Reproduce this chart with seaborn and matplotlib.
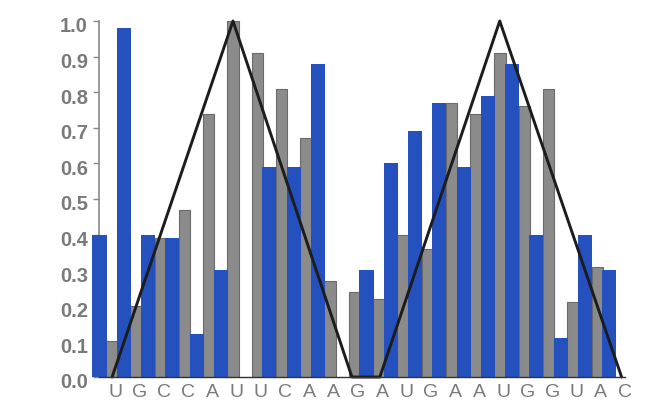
import numpy as np
import pandas as pd
import matplotlib
matplotlib.use("Agg")
import matplotlib.pyplot as plt
import matplotlib.transforms as mtransforms
import seaborn as sns

# ---- data ----
labels = list("UGCCAUUCAAGAUGAAUGGUAC")
blue_vals = [0.40, 0.98, 0.40, 0.39, 0.12, 0.30, 0.00, 0.59, 0.59, 0.88, 0.00,
             0.30, 0.60, 0.69, 0.77, 0.59, 0.79, 0.88, 0.40, 0.11, 0.40, 0.30]
gray_vals = [0.10, 0.20, 0.39, 0.47, 0.74, 1.00, 0.91, 0.81, 0.67, 0.27, 0.24,
             0.22, 0.40, 0.36, 0.77, 0.74, 0.91, 0.76, 0.81, 0.21, 0.31, 0.00]
line_x = [0.27, 5.25, 10.15, 11.30, 16.24, 21.26]
line_y = [0.0, 1.0, 0.0, 0.0, 1.0, 0.0]
yticks = [0.0, 0.1, 0.2, 0.3, 0.4, 0.5, 0.6, 0.7, 0.8, 0.9, 1.0]

BLUE = "#2451BE"
GRAY = "#8B8B8B"
TXT = "#7A7A7A"

n = len(labels)
df = pd.DataFrame({
    "pos": list(range(n)) * 2,
    "value": blue_vals + gray_vals,
    "series": ["blue"] * n + ["gray"] * n,
})

sns.set_style("white")
plt.rcParams["font.family"] = ["Liberation Sans", "DejaVu Sans"]

fig = plt.figure(figsize=(6.58, 4.06), dpi=100)
ax = fig.add_axes([99 / 658, 1 - 378 / 406, (625 - 99) / 658, (378 - 22) / 406])

sns.barplot(data=df, x="pos", y="value", hue="series", hue_order=["blue", "gray"],
            palette={"blue": BLUE, "gray": GRAY}, width=1.0, dodge=True,
            errorbar=None, legend=False, ax=ax, saturation=1.0)

# adjust widths / layering
for p in ax.containers[0]:  # blue
    c = p.get_x() + p.get_width() / 2
    w = 0.58
    p.set_x(c - w / 2)
    p.set_width(w)
    p.set_zorder(3)
    p.set_clip_on(False)
    p.set_edgecolor("none")
for p in ax.containers[1]:  # gray
    c = p.get_x() + p.get_width() / 2
    w = 0.46
    p.set_x(c - w / 2)
    p.set_width(w)
    p.set_zorder(2)
    p.set_edgecolor("#6A6A6A")
    p.set_linewidth(0.8)

sns.lineplot(x=line_x, y=line_y, color="#1C1C1C", linewidth=2.1, ax=ax,
             zorder=5, clip_on=False)

ax.set_xlim(-0.27, 21.39)
ax.set_ylim(0, 1.0)
ax.set_yticks(yticks)
ax.set_yticklabels([f"{v:.1f}" for v in yticks], fontsize=14.5, fontweight="bold",
                   color=TXT)
ax.set_xticks(np.arange(n) + 0.4)
ax.set_xticklabels(labels, fontsize=14, color=TXT)
ax.tick_params(axis="x", length=0, pad=4)
ax.tick_params(axis="y", length=4, width=1, color="#888888", pad=4, left=True)
ax.set_xlabel("")
ax.set_ylabel("")

offset = mtransforms.ScaledTranslation(0, -3 / 100, fig.dpi_scale_trans)
for lab in ax.get_yticklabels():
    lab.set_transform(lab.get_transform() + offset)

for s in ["top", "right"]:
    ax.spines[s].set_visible(False)
ax.spines["left"].set_color("#8A8A8A")
ax.spines["left"].set_linewidth(1.2)
ax.spines["bottom"].set_color("#333333")
ax.spines["bottom"].set_linewidth(1.0)
ax.spines["bottom"].set_zorder(6)

fig.savefig("out.png", dpi=100)
